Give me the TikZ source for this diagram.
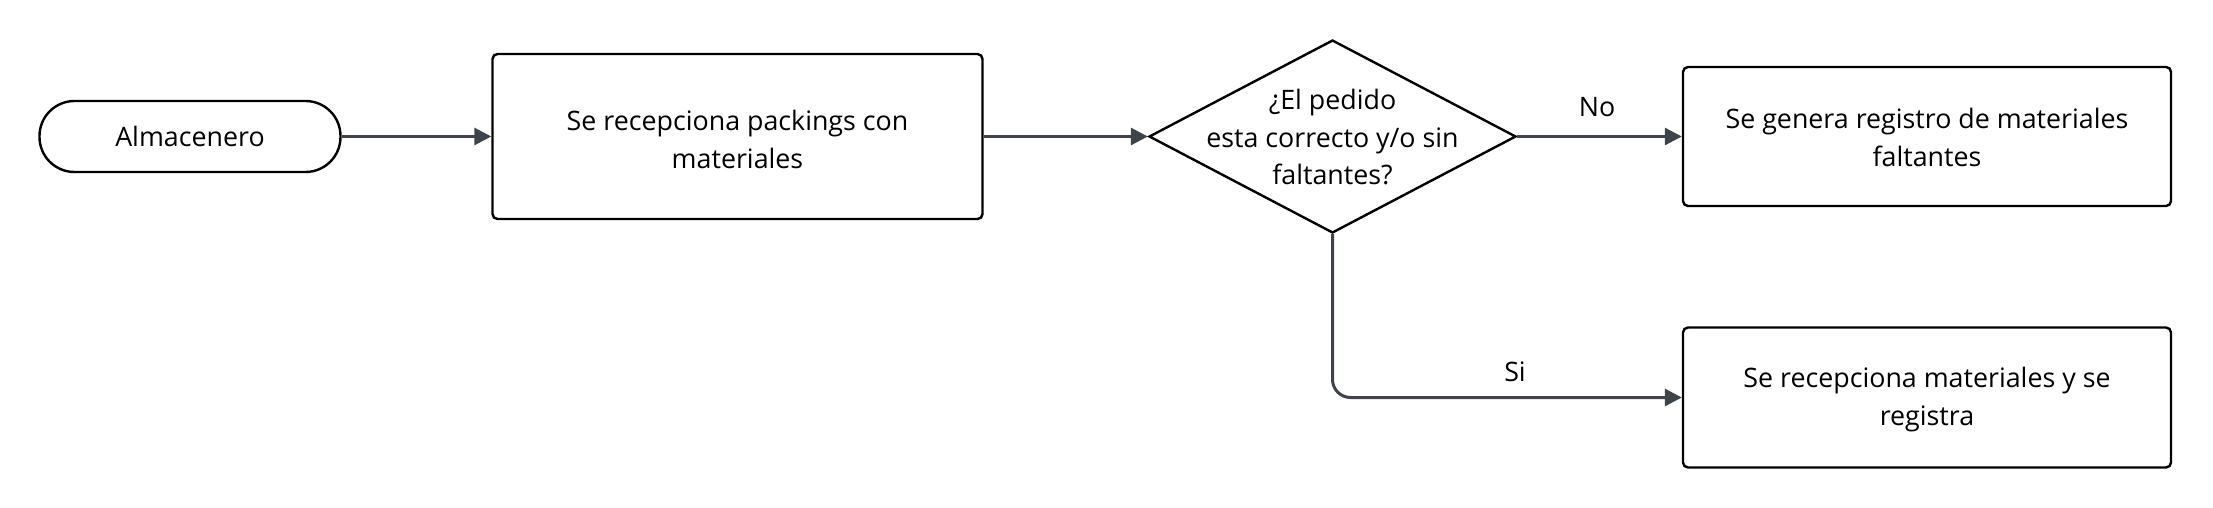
\documentclass[tikz,border=0pt]{standalone}
\usepackage{fontspec}
\setmainfont{Open Sans}
\usetikzlibrary{arrows.meta,shapes.geometric}
\definecolor{linec}{HTML}{3F444B}
\tikzset{
  txt/.style={font=\fontsize{26.8}{37.5}\selectfont, align=center, text=black},
  box/.style={draw=black, line width=2.4pt, rounded corners=5pt, fill=white, inner sep=0pt},
  pill/.style={draw=black, line width=2.4pt, rounded corners=35pt, fill=white, inner sep=0pt},
  decision/.style={draw=black, line width=2.4pt, diamond, fill=white, inner sep=0pt},
  conn/.style={draw=linec, line width=3pt, -{Triangle[length=17pt,width=17pt]}},
  lbl/.style={font=\fontsize{26.8}{30}\selectfont, text=black, inner sep=0pt}
}
\begin{document}
\begin{tikzpicture}[x=1pt,y=-1pt]
\useasboundingbox (0,0) rectangle (2213,508);
\node[pill, minimum width=301pt, minimum height=71pt, txt] (alm) at (190,136.5) {Almacenero};
\node[box, minimum width=490pt, minimum height=165pt] (rec) at (737.5,136.5) {};
\node[txt] (rectxt) at ([yshift=-3pt]rec.center) {Se recepciona packings con\\materiales};
\node[decision, minimum width=367pt, minimum height=193pt] (dec) at (1332.5,136.5) {};
\node[txt, inner sep=0pt] (dectxt) at ([yshift=-1pt]dec.center) {¿El pedido\\esta correcto y/o sin\\faltantes?};
\node[box, minimum width=488pt, minimum height=139pt] (no) at (1927,136.5) {};
\node[txt] (notxt) at ([yshift=-1pt]no.center) {Se genera registro de materiales\\faltantes};
\node[box, minimum width=488pt, minimum height=140pt] (si) at (1927,397.5) {};
\node[txt] (sitxt) at ([yshift=-2pt]si.center) {Se recepciona materiales y se\\registra};
\draw[conn] (alm.east) -- (rec.west);
\draw[conn] (rec.east) -- (dec.west);
\draw[conn] (dec.east) -- (no.west);
\draw[conn, rounded corners=18pt] (dec.south) |- (si.west);
\node[lbl] (nolbl) at (1597,107) {No};
\node[lbl] (silbl) at (1515,372) {Si};
\end{tikzpicture}
\end{document}
